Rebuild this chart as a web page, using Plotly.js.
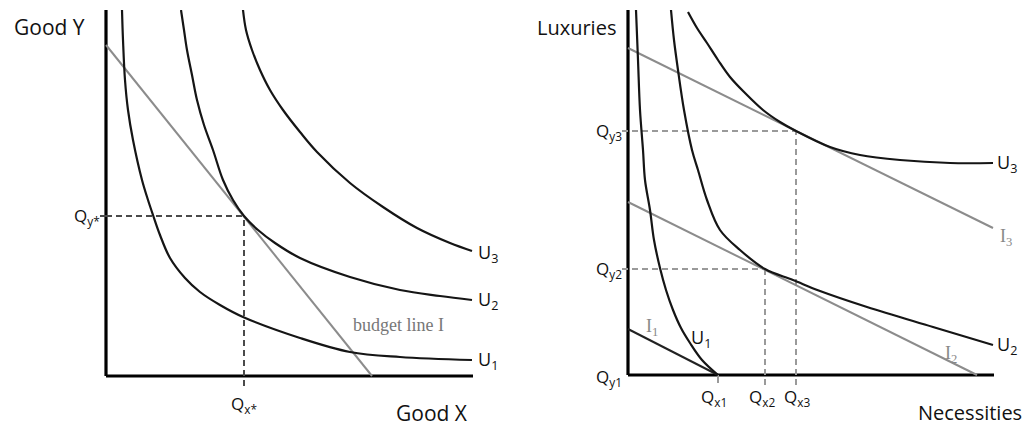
<!DOCTYPE html>
<html>
<head>
<meta charset="utf-8">
<script src="https://cdn.plot.ly/plotly-3.0.1.min.js"></script>
<style>html,body{margin:0;padding:0;background:#fff;}#chart{width:1034px;height:431px;}</style>
</head>
<body>
<div id="chart"></div>
<script>
// ---------- Left panel: Good X vs Good Y (units relative to origin) ----------
const leftU1x = [16, 17, 19, 22, 27, 36, 42, 47, 54, 64, 79, 94, 114, 137, 194, 244, 294, 366];
const leftU1y = [366, 336, 296, 266, 236, 196, 176, 161, 141, 118, 98, 84, 71, 59, 38, 24, 19, 16];
const leftU2x = [75, 78, 81, 86, 91, 98, 107, 117, 127, 138, 152, 169, 194, 244, 294, 334, 366];
const leftU2y = [366, 346, 326, 301, 276, 251, 226, 196, 176, 160, 146, 133, 118, 99, 86, 80, 76];
const leftU3x = [137, 140, 146, 154, 164, 177, 194, 211, 244, 277, 311, 344, 366];
const leftU3y = [366, 346, 326, 306, 286, 266, 244, 224, 193, 169, 148, 133, 125];
const leftBudgetX = [0, 266];
const leftBudgetY = [331, 0];
const leftQx = 138;   // Qx*
const leftQy = 160;   // Qy*
const leftAxisLen = [367, 366];

// ---------- Right panel: Necessities vs Luxuries ----------
const rightU1x = [8, 10, 12, 15, 17, 22, 26, 32, 38, 45, 53, 62, 74, 90];
const rightU1y = [365, 315, 265, 225, 195, 165, 135, 107, 85, 65, 47, 32, 15, 0];
const rightU2x = [43, 46, 50, 56, 64, 70, 79, 92, 112, 137, 165, 192, 239, 305, 365];
const rightU2y = [365, 335, 305, 265, 225, 205, 175, 145, 125, 106, 95, 84, 68, 48, 30];
const rightU3x = [60, 69, 79, 90, 102, 117, 135, 152, 168, 202, 232, 272, 322, 365];
const rightU3y = [363, 347, 332, 315, 298, 282, 265, 253, 244, 228, 220, 215, 212, 212];
const rightI1x = [0, 90];
const rightI1y = [46, 0];
const rightI2x = [0, 349];
const rightI2y = [173, 0];
const rightI3x = [0, 365];
const rightI3y = [327, 147];
const rightQx = [90, 137, 168];   // Qx1, Qx2, Qx3
const rightQy = [0, 106, 244];    // Qy1, Qy2, Qy3
const rightAxisLen = [366, 365];

// ---------- Text ----------
const leftAxisTitles = ['Good Y', 'Good X'];
const rightAxisTitles = ['Luxuries', 'Necessities'];
const curveLabels = ['U<sub>1</sub>', 'U<sub>2</sub>', 'U<sub>3</sub>'];
const incomeLabels = ['I<sub>1</sub>', 'I<sub>2</sub>', 'I<sub>3</sub>'];
const leftQLabels = ['Q<sub>x*</sub>', 'Q<sub>y*</sub>'];
const rightQxLabels = ['Q<sub>x1</sub>', 'Q<sub>x2</sub>', 'Q<sub>x3</sub>'];
const rightQyLabels = ['Q<sub>y1</sub>', 'Q<sub>y2</sub>', 'Q<sub>y3</sub>'];
const budgetLabel = 'budget line I';

const W = 1034, H = 431;
const CURVE = '#151515', GRAY = '#8c8c8c';
const curve = (x, y, xa, ya) => ({x, y, xaxis: xa, yaxis: ya, mode: 'lines', hoverinfo: 'skip',
  line: {color: CURVE, width: 2.2, shape: 'spline', smoothing: 1}});
const straight = (x, y, xa, ya, color, width, dash) => ({x, y, xaxis: xa, yaxis: ya, mode: 'lines', hoverinfo: 'skip',
  line: {color, width, dash: dash || 'solid'}});

const traces = [
  // left axes
  straight([0, leftAxisLen[0]], [0, 0], 'x', 'y', '#000', 3.2),
  straight([0, 0], [0, leftAxisLen[1]], 'x', 'y', '#000', 3.2),
  // left dashed guides
  straight([leftQx, leftQx], [-10, leftQy], 'x', 'y', '#4a4a4a', 2, '6px,4px'),
  straight([0, leftQx], [leftQy, leftQy], 'x', 'y', '#4a4a4a', 2, '6px,4px'),
  straight([-6, 0], [leftQy, leftQy], 'x', 'y', '#4a4a4a', 2),
  // left budget line + curves
  straight(leftBudgetX, leftBudgetY, 'x', 'y', GRAY, 2),
  curve(leftU1x, leftU1y, 'x', 'y'),
  curve(leftU2x, leftU2y, 'x', 'y'),
  curve(leftU3x, leftU3y, 'x', 'y'),
  // right axes
  straight([0, rightAxisLen[0]], [0, 0], 'x2', 'y2', '#000', 3.2),
  straight([0, 0], [0, rightAxisLen[1]], 'x2', 'y2', '#000', 3.2),
  // right dashed guides
  straight([rightQx[0], rightQx[0]], [-8, 0], 'x2', 'y2', '#9a9a9a', 2),
  straight([rightQx[1], rightQx[1]], [-10, rightQy[1]], 'x2', 'y2', '#9a9a9a', 2, '6px,4px'),
  straight([rightQx[2], rightQx[2]], [-10, rightQy[2]], 'x2', 'y2', '#9a9a9a', 2, '6px,4px'),
  straight([-6, rightQx[1]], [rightQy[1], rightQy[1]], 'x2', 'y2', '#9a9a9a', 2, '6px,4px'),
  straight([-6, rightQx[2]], [rightQy[2], rightQy[2]], 'x2', 'y2', '#9a9a9a', 2, '6px,4px'),
  // right budget lines + curves
  straight(rightI1x, rightI1y, 'x2', 'y2', '#222', 2),
  straight(rightI2x, rightI2y, 'x2', 'y2', GRAY, 2),
  straight(rightI3x, rightI3y, 'x2', 'y2', GRAY, 2),
  curve(rightU1x, rightU1y, 'x2', 'y2'),
  curve(rightU2x, rightU2y, 'x2', 'y2'),
  curve(rightU3x, rightU3y, 'x2', 'y2')
];

const P = (px, py) => ({x: px / W, y: 1 - py / H});
const SANS = 'Open Sans, Noto Sans, sans-serif';
const SERIF = 'Liberation Serif, DejaVu Serif, serif';
const sans = (size) => ({family: SANS, size, color: '#111'});
const serif = (size, color) => ({family: SERIF, size, color});
function ann(text, px, py, opts) {
  const p = P(px, py);
  return Object.assign({text, x: p.x, y: p.y, xref: 'paper', yref: 'paper', showarrow: false,
    xanchor: 'center', yanchor: 'middle', font: sans(18)}, opts || {});
}
const annotations = [
  ann(leftAxisTitles[0], 49, 27, {font: sans(21)}),
  ann(leftAxisTitles[1], 432, 413, {font: sans(21)}),
  ann(rightAxisTitles[0], 576, 28, {font: sans(20)}),
  ann(rightAxisTitles[1], 970, 412, {font: sans(20)}),
  ann(leftQLabels[0], 244, 404, {font: sans(17)}),
  ann(leftQLabels[1], 102, 216, {xanchor: 'right', font: sans(17)}),
  ann(budgetLabel, 398, 325, {font: serif(18, '#777')}),
  ann(curveLabels[2], 476, 254, {xanchor: 'left'}),
  ann(curveLabels[1], 476, 300, {xanchor: 'left'}),
  ann(curveLabels[0], 476, 360, {xanchor: 'left'}),
  ann(rightQyLabels[2], 624, 131, {xanchor: 'right', font: sans(17)}),
  ann(rightQyLabels[1], 624, 269, {xanchor: 'right', font: sans(17)}),
  ann(rightQyLabels[0], 624, 377, {xanchor: 'right', font: sans(17)}),
  ann(rightQxLabels[0], 714, 397, {font: sans(17)}),
  ann(rightQxLabels[1], 762, 397, {font: sans(17)}),
  ann(rightQxLabels[2], 797, 397, {font: sans(17)}),
  ann(curveLabels[2], 995, 163, {xanchor: 'left'}),
  ann(curveLabels[1], 995, 345, {xanchor: 'left'}),
  ann(curveLabels[0], 701, 338),
  ann(incomeLabels[2], 1006, 238, {font: serif(18, '#888')}),
  ann(incomeLabels[1], 951, 354, {font: serif(18, '#888')}),
  ann(incomeLabels[0], 652, 327, {font: serif(18, '#888')})
];

const hidden = {showgrid: false, zeroline: false, showticklabels: false, ticks: '', showline: false, fixedrange: true};
const layout = {
  width: W, height: H, margin: {l: 0, r: 0, t: 0, b: 0},
  paper_bgcolor: '#fff', plot_bgcolor: 'rgba(0,0,0,0)', showlegend: false,
  xaxis: Object.assign({range: [-8, 367], domain: [98 / W, 473 / W]}, hidden),
  yaxis: Object.assign({range: [-12, 366], domain: [(H - 388) / H, (H - 10) / H]}, hidden),
  xaxis2: Object.assign({range: [-8, 366], domain: [620 / W, 994 / W], anchor: 'y2'}, hidden),
  yaxis2: Object.assign({range: [-12, 365], domain: [(H - 387) / H, (H - 10) / H], anchor: 'x2'}, hidden),
  annotations
};
Plotly.newPlot('chart', traces, layout, {staticPlot: true, displayModeBar: false});
</script>
</body>
</html>
